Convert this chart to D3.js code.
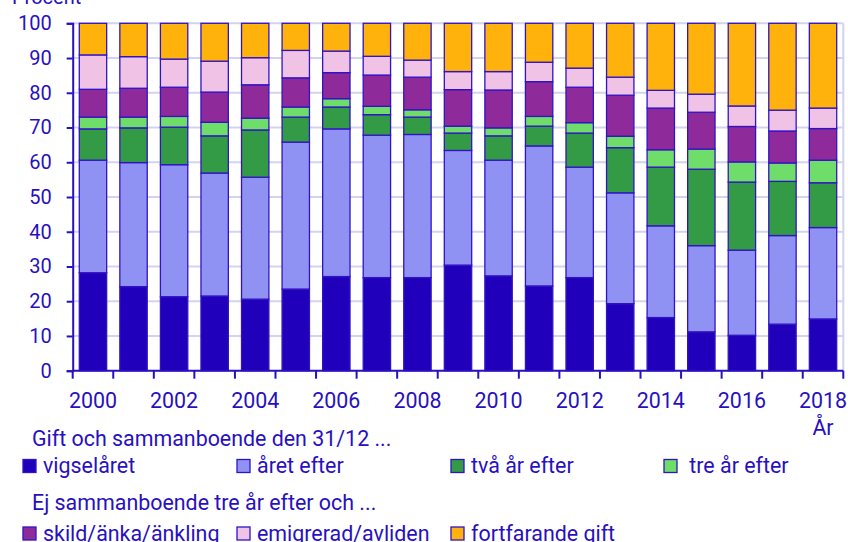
<!DOCTYPE html>
<html>
<head>
<meta charset="utf-8">
<script src="https://cdn.jsdelivr.net/npm/d3@7"></script>
<style>
  body { margin: 0; background: #fff; }
  text { font-family: Roboto, "Noto Sans", sans-serif; fill: #2810c0; }
</style>
</head>
<body>
<script>
// år 2000-2018
var years = d3.range(2000, 2019);

// andel (procent) per utfall
var vigselaret  = [28.2,24.2,21.3,21.5,20.6,23.5,27.1,26.8,26.8,30.4,27.3,24.4,26.8,19.3,15.3,11.2,10.2,13.4,14.9];
var aretEfter   = [32.4,35.7,38.0,35.4,35.1,42.3,42.5,41.0,41.2,33.0,33.3,40.3,31.8,31.9,26.4,24.8,24.5,25.5,26.3];
var tvaArEfter  = [9.0,10.0,10.8,10.7,13.6,7.2,6.3,5.9,5.0,5.0,7.0,5.7,9.8,13.0,16.9,22.0,19.6,15.6,12.9];
var treArEfter  = [3.4,3.1,3.1,3.9,3.4,2.9,2.4,2.4,2.1,2.0,2.3,2.8,3.0,3.3,5.0,5.8,5.8,5.3,6.5];
var skild       = [8.0,8.3,8.4,8.7,9.6,8.4,7.5,9.0,9.4,10.5,10.9,10.0,10.2,11.8,12.0,10.6,10.2,9.2,9.1];
var emigrerad   = [9.9,9.1,8.1,8.9,7.8,7.9,6.2,5.4,4.9,5.2,5.3,5.6,5.5,5.2,5.1,5.2,5.9,6.0,5.9];
var fortfarande = [9.1,9.6,10.3,10.9,9.9,7.8,8.0,9.5,10.6,13.9,13.9,11.2,12.9,15.5,19.3,20.4,23.8,25.0,24.4];

var yTicks = [0,10,20,30,40,50,60,70,80,90,100];
var xLabels = [2000,2002,2004,2006,2008,2010,2012,2014,2016,2018];

var series = [
  {key: "vigselaret",  label: "vigselåret",          values: vigselaret,  color: "#2000bb"},
  {key: "aretEfter",   label: "året efter",          values: aretEfter,   color: "#8f92f3"},
  {key: "tvaArEfter",  label: "två år efter",        values: tvaArEfter,  color: "#339b45"},
  {key: "treArEfter",  label: " tre år efter",       values: treArEfter,  color: "#6fdd6a"},
  {key: "skild",       label: "skild/änka/änkling",  values: skild,       color: "#8f2a9a"},
  {key: "emigrerad",   label: "emigrerad/avliden",   values: emigrerad,   color: "#f0c2e6"},
  {key: "fortfarande", label: "fortfarande gift",    values: fortfarande, color: "#ffb20b"}
];

// table for d3.stack
var table = years.map(function(yr, i) {
  var row = {year: yr};
  series.forEach(function(s) { row[s.key] = s.values[i]; });
  return row;
});

var W = 848, H = 542;
var plotLeft = 72.7, plotRight = 843.3, plotTop = 23.3, plotBottom = 370.7;
var ink = "#2810c0";
var fs = "21.4px";

var svg = d3.select("body").append("svg")
  .attr("width", W).attr("height", H);

var x = d3.scaleBand()
  .domain(years)
  .range([plotLeft, plotRight])
  .paddingInner(0.325)
  .paddingOuter(0.1625);

var y = d3.scaleLinear()
  .domain([0, 100])
  .range([plotBottom, plotTop]);

// gridlines
svg.append("g")
  .selectAll("line")
  .data(yTicks.slice(1))
  .enter().append("line")
  .attr("x1", plotLeft).attr("x2", plotRight)
  .attr("y1", function(d) { return y(d); })
  .attr("y2", function(d) { return y(d); })
  .attr("stroke", "#d3d3ef")
  .attr("stroke-width", 2);

svg.append("line")
  .attr("x1", plotRight).attr("x2", plotRight)
  .attr("y1", plotTop).attr("y2", plotBottom)
  .attr("stroke", "#d3d3ef")
  .attr("stroke-width", 2);

// stacked bars
var stack = d3.stack().keys(series.map(function(s) { return s.key; }));
var layers = stack(table);

svg.append("g")
  .selectAll("g")
  .data(layers)
  .enter().append("g")
  .attr("fill", function(d, i) { return series[i].color; })
  .selectAll("rect")
  .data(function(d) { return d; })
  .enter().append("rect")
  .attr("x", function(d) { return x(d.data.year); })
  .attr("width", x.bandwidth())
  .attr("y", function(d) { return y(d[1]); })
  .attr("height", function(d) { return y(d[0]) - y(d[1]); })
  .attr("stroke", "#3014c4")
  .attr("stroke-width", 1.3);

// y axis
var yAxis = svg.append("g")
  .attr("transform", "translate(" + plotLeft + ",0)")
  .call(d3.axisLeft(y).tickValues(yTicks).tickSize(6).tickPadding(15));
yAxis.select(".domain").attr("stroke", ink).attr("stroke-width", 2);
yAxis.selectAll(".tick line").attr("stroke", ink).attr("stroke-width", 2);
yAxis.selectAll(".tick text")
  .style("font-size", "20px").attr("fill", ink);

// x axis: ticks on band edges
var edges = years.map(function(yr) { return x(yr) - x.step() * x.paddingInner() / 2; });
edges.push(plotRight);
var xg = svg.append("g");
xg.append("line")
  .attr("x1", plotLeft).attr("x2", plotRight)
  .attr("y1", plotBottom).attr("y2", plotBottom)
  .attr("stroke", ink).attr("stroke-width", 2);
xg.selectAll(".tk")
  .data(edges)
  .enter().append("line")
  .attr("x1", function(d) { return d; }).attr("x2", function(d) { return d; })
  .attr("y1", plotBottom).attr("y2", plotBottom + 8)
  .attr("stroke", ink).attr("stroke-width", 2);
xg.selectAll(".lbl")
  .data(xLabels)
  .enter().append("text")
  .attr("x", function(d) { return x(d) + x.bandwidth() / 2; })
  .attr("y", 408)
  .attr("text-anchor", "middle")
  .style("font-size", fs)
  .text(function(d) { return d; });

svg.append("text")
  .attr("x", 823).attr("y", 435)
  .attr("text-anchor", "middle")
  .style("font-size", fs)
  .text("År");

svg.append("text")
  .attr("x", 12).attr("y", 4)
  .style("font-size", "20px")
  .text("Procent");

// legend
svg.append("text").attr("x", 32).attr("y", 446)
  .style("font-size", fs).text("Gift och sammanboende den 31/12 ...");
svg.append("text").attr("x", 32).attr("y", 510)
  .style("font-size", fs).text("Ej sammanboende tre år efter och ...");

var colX = [23, 237, 451, 664];
var legend = svg.append("g")
  .selectAll("g")
  .data(series)
  .enter().append("g")
  .attr("transform", function(d, i) {
    var col = i < 4 ? i : i - 4;
    var row = i < 4 ? 0 : 1;
    return "translate(" + colX[col] + "," + (row === 0 ? 459.5 : 527) + ")";
  });
legend.append("rect")
  .attr("width", 13).attr("height", 13)
  .attr("fill", function(d) { return d.color; })
  .attr("stroke", "#3014c4").attr("stroke-width", 1.3);
legend.append("text")
  .attr("x", 20).attr("y", 13.5)
  .style("font-size", fs)
  .style("white-space", "pre")
  .text(function(d) { return d.label; });
</script>
</body>
</html>
